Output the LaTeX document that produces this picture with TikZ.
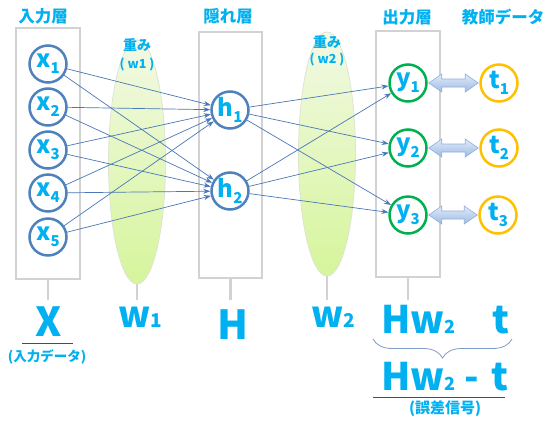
\documentclass[tikz,border=0pt]{standalone}
\usepackage{fontspec}
\setmainfont{Noto Sans CJK JP}
\usetikzlibrary{shapes.geometric,arrows.meta,calc,decorations.pathreplacing}
\definecolor{cyantext}{HTML}{00B0F0}
\definecolor{circblue}{HTML}{4F81BD}
\definecolor{linkblue}{HTML}{4A77B8}
\definecolor{boxgray}{HTML}{D2D2D2}
\definecolor{outgreen}{HTML}{00B050}
\definecolor{torange}{HTML}{FFC000}
\definecolor{ellTop}{HTML}{F2F9E4}
\definecolor{ellBot}{HTML}{D6F59C}
\definecolor{ellEdge}{HTML}{DDE5D2}
\definecolor{arrTop}{HTML}{E2EBF7}
\definecolor{arrBot}{HTML}{9DBBE5}
\definecolor{arrEdge}{HTML}{8FB0DC}
\definecolor{braceblue}{HTML}{7F9CCB}
\newcommand\fs[1]{\fontsize{#1}{#1}\selectfont}
\newcommand\nsub[2]{{\fs{24}#1}\raisebox{-6pt}{\fs{15}#2}}
\begin{document}
\begin{tikzpicture}[x=1pt,y=-1pt,
  every node/.style={text=cyantext, font=\bfseries},
  layerbox/.style={draw=boxgray, line width=2.5pt, inner sep=0},
  stem/.style={draw=boxgray, line width=2.5pt},
  wellipse/.style={ellipse, minimum width=57, minimum height=244, inner sep=0,
    top color=ellTop, bottom color=ellBot, draw=ellEdge, line width=0.8pt},
  neuron/.style={circle, line width=2.5pt, minimum size=37, inner sep=0, fill=white},
  inN/.style={neuron, draw=circblue},
  outN/.style={neuron, draw=outgreen},
  tN/.style={neuron, draw=torange},
  conn/.style={draw=linkblue, line width=0.7pt, -{Stealth[length=7pt,width=5pt]}},
  lbl/.style={font=\bfseries\fs{16.5}},
  wlbl/.style={font=\bfseries\fs{14}},
  wplbl/.style={font=\bfseries\fs{12.5}},
  big/.style={font=\bfseries\fs{40}, inner sep=0},
  note/.style={font=\bfseries\fs{13.5}, inner sep=0},
  redline/.style={draw=red, line width=0.9pt},
  dblarr/.style={draw=arrEdge, line width=0.6pt, top color=arrTop, bottom color=arrBot}
]
\useasboundingbox (0,0) rectangle (548,426);

% layer boxes
\node[layerbox, minimum width=64, minimum height=251] (inbox) at (48,153.5) {};
\node[layerbox, minimum width=63, minimum height=246] (hidbox) at (230.5,155) {};
\node[layerbox, minimum width=64, minimum height=246] (outbox) at (408,154) {};
\coordinate (s1) at (48,300);
\coordinate (s3) at (230.5,300);
\coordinate (s5) at (408,300);
\draw[stem] (inbox.south) -- (s1);
\draw[stem] (hidbox.south) -- (s3);
\draw[stem] (outbox.south) -- (s5);

% weight ellipses
\node[wellipse] (e1) at (137,162) {};
\node[wellipse] (e2) at (327,154) {};
\coordinate (s2) at (137,300);
\coordinate (s4) at (327,300);
\draw[stem] (e1.south) -- (s2);
\draw[stem] (e2.south) -- (s4);

% top labels
\node[lbl] (lin) at (43,16) {入力層};
\node[lbl] (lhid) at (228,16) {隠れ層};
\node[lbl] (lout) at (407,17) {出力層};
\node[lbl] (ltea) at (503,17) {教師データ};
\node[wlbl] (wa1) at (137,45) {重み};
\node[wplbl] (wb1) at (137,65) {( w1 )};
\node[wlbl] (wa2) at (327,42) {重み};
\node[wplbl] (wb2) at (327,60) {( w2 )};

% neurons
\node[inN] (x1) at (48,64) {\nsub{x}{1}};
\node[inN] (x2) at (48,107) {\nsub{x}{2}};
\node[inN] (x3) at (48,150) {\nsub{x}{3}};
\node[inN] (x4) at (48,193) {\nsub{x}{4}};
\node[inN] (x5) at (48,237) {\nsub{x}{5}};
\node[inN] (h1) at (230,110) {\nsub{h}{1}};
\node[inN] (h2) at (230,191) {\nsub{h}{2}};
\node[outN] (y1) at (408,83) {\nsub{y}{1}};
\node[outN] (y2) at (408,148) {\nsub{y}{2}};
\node[outN] (y3) at (408,215) {\nsub{y}{3}};
\node[tN] (t1) at (499,83) {\nsub{t}{1}};
\node[tN] (t2) at (499,148) {\nsub{t}{2}};
\node[tN] (t3) at (498,215) {\nsub{t}{3}};

% connections
\foreach \i in {1,...,5}{
  \foreach \j in {1,2}{
    \draw[conn] (x\i) -- (h\j);
  }
}
\foreach \j in {1,2}{
  \foreach \k in {1,2,3}{
    \draw[conn] (h\j) -- (y\k);
  }
}

% double arrows
\foreach \k in {1,2,3}{
  \coordinate (pa\k) at ($(y\k.east)+(1,0)$);
  \coordinate (pb\k) at ($(t\k.west)+(-1,0)$);
  \path[dblarr] (pa\k) -- ($(pa\k)+(13,-9)$) -- ($(pa\k)+(13,-4)$) -- ($(pb\k)+(-13,-4)$)
    -- ($(pb\k)+(-13,-9)$) -- (pb\k) -- ($(pb\k)+(-13,9)$) -- ($(pb\k)+(-13,4)$)
    -- ($(pa\k)+(13,4)$) -- ($(pa\k)+(13,9)$) -- cycle;
}

% bottom labels
\node[big, anchor=base] (X) at (49,336) {X};
\coordinate (ula) at (22,343);
\coordinate (ulb) at (73,343);
\draw[redline] (ula) -- (ulb);
\node[note] (xnote) at (47,357) {(入力データ)};
\node[anchor=base, inner sep=0] (W1) at (140,327) {\fs{36}w\fs{19}1};
\node[big, anchor=base] (H) at (233,339) {H};
\node[anchor=base, inner sep=0] (W2) at (333,327) {\fs{36}w\fs{19}2};
\node[anchor=base west, inner sep=0] (HW) at (381,333) {\fs{38}Hw\fs{18}2};
\node[anchor=base, inner sep=0] (T) at (501,333) {\fs{38}t};
\coordinate (bl) at (373,339);
\coordinate (br) at (512,339);
\draw[braceblue, line width=0.8pt, decorate, decoration={brace, amplitude=19pt, mirror}] (bl) -- (br);
\node[anchor=base west, inner sep=0] (HWT) at (381,390) {\fs{38}Hw\fs{18}2\fs{38}\hspace{9pt}-\hspace{12pt}t};
\coordinate (ulc) at (373,397);
\coordinate (uld) at (505,397);
\draw[redline] (ulc) -- (uld);
\node[note, font=\bfseries\fs{15}] (enote) at (445,409) {(誤差信号)};
\end{tikzpicture}
\end{document}
